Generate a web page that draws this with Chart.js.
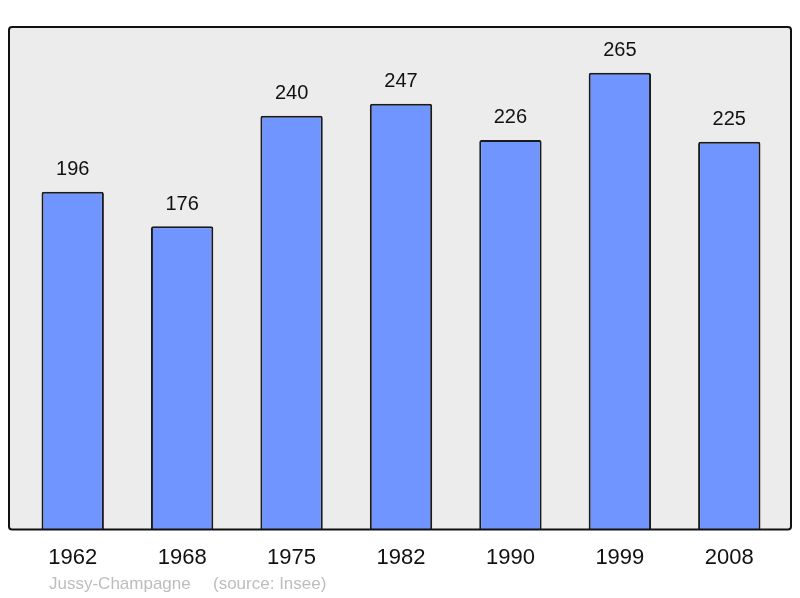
<!DOCTYPE html>
<html>
<head>
<meta charset="utf-8">
<script src="https://cdn.jsdelivr.net/npm/chart.js@4"></script>
<style>
  html, body { margin: 0; padding: 0; background: #fff; }
  #wrap { width: 800px; height: 598px; }
</style>
</head>
<body>
<div id="wrap"><canvas id="popChart" width="800" height="598"></canvas></div>
<script>
// Population data (Insee)
const years = ["1962", "1968", "1975", "1982", "1990", "1999", "2008"];
const population = [196, 176, 240, 247, 226, 265, 225];
const yMax = 291.5;
const place = "Jussy-Champagne";
const source = "(source: Insee)";

// grey frame behind the bars
const framePlugin = {
    id: "frame",
    beforeDatasetsDraw(chart) {
        const { ctx, chartArea } = chart;
        const left = chartArea.left - 9, right = chartArea.right + 7;
        const top = chartArea.top, bottom = chartArea.bottom;
        ctx.save();
        ctx.beginPath();
        ctx.roundRect(left, top, right - left, bottom - top, 3);
        ctx.fillStyle = "#ececec";
        ctx.fill();
        ctx.restore();
    },
    afterDatasetsDraw(chart) {
        const { ctx, chartArea } = chart;
        const left = chartArea.left - 9, right = chartArea.right + 7;
        const top = chartArea.top, bottom = chartArea.bottom;
        ctx.save();
        ctx.beginPath();
        ctx.roundRect(left, top, right - left, bottom - top, 3);
        ctx.lineWidth = 2;
        ctx.strokeStyle = "#111";
        ctx.stroke();

        // value labels above bars
        ctx.font = "20px 'Liberation Sans', Arial, sans-serif";
        ctx.fillStyle = "#111";
        ctx.textAlign = "center";
        ctx.textBaseline = "middle";
        chart.getDatasetMeta(0).data.forEach((bar, i) => {
            ctx.fillText(population[i], bar.x, bar.y - 22);
        });

        // footer
        ctx.font = "17px 'Liberation Sans', Arial, sans-serif";
        ctx.fillStyle = "#bdbdbd";
        ctx.textAlign = "left";
        ctx.fillText(place, 49, 584);
        ctx.fillText(source, 213, 584);
        ctx.restore();
    }
};

const ctx = document.getElementById("popChart").getContext("2d");
new Chart(ctx, {
    type: "bar",
    data: {
        labels: years,
        datasets: [{
            data: population,
            backgroundColor: "#7095ff",
            borderColor: "#1a1a1a",
            borderWidth: 2,
            borderSkipped: "bottom",
            borderRadius: 2,
            barPercentage: 0.57,
            categoryPercentage: 1
        }]
    },
    options: {
        responsive: false,
        animation: false,
        layout: { padding: { left: 18, right: 16, top: 27, bottom: 12 } },
        plugins: {
            legend: { display: false },
            tooltip: { enabled: false }
        },
        scales: {
            y: { display: false, min: 0, max: yMax },
            x: {
                grid: { display: false, drawTicks: false },
                border: { display: false },
                ticks: {
                    color: "#111",
                    padding: 15,
                    font: { family: "'Liberation Sans', Arial, sans-serif", size: 22 }
                }
            }
        }
    },
    plugins: [framePlugin]
});
</script>
</body>
</html>
